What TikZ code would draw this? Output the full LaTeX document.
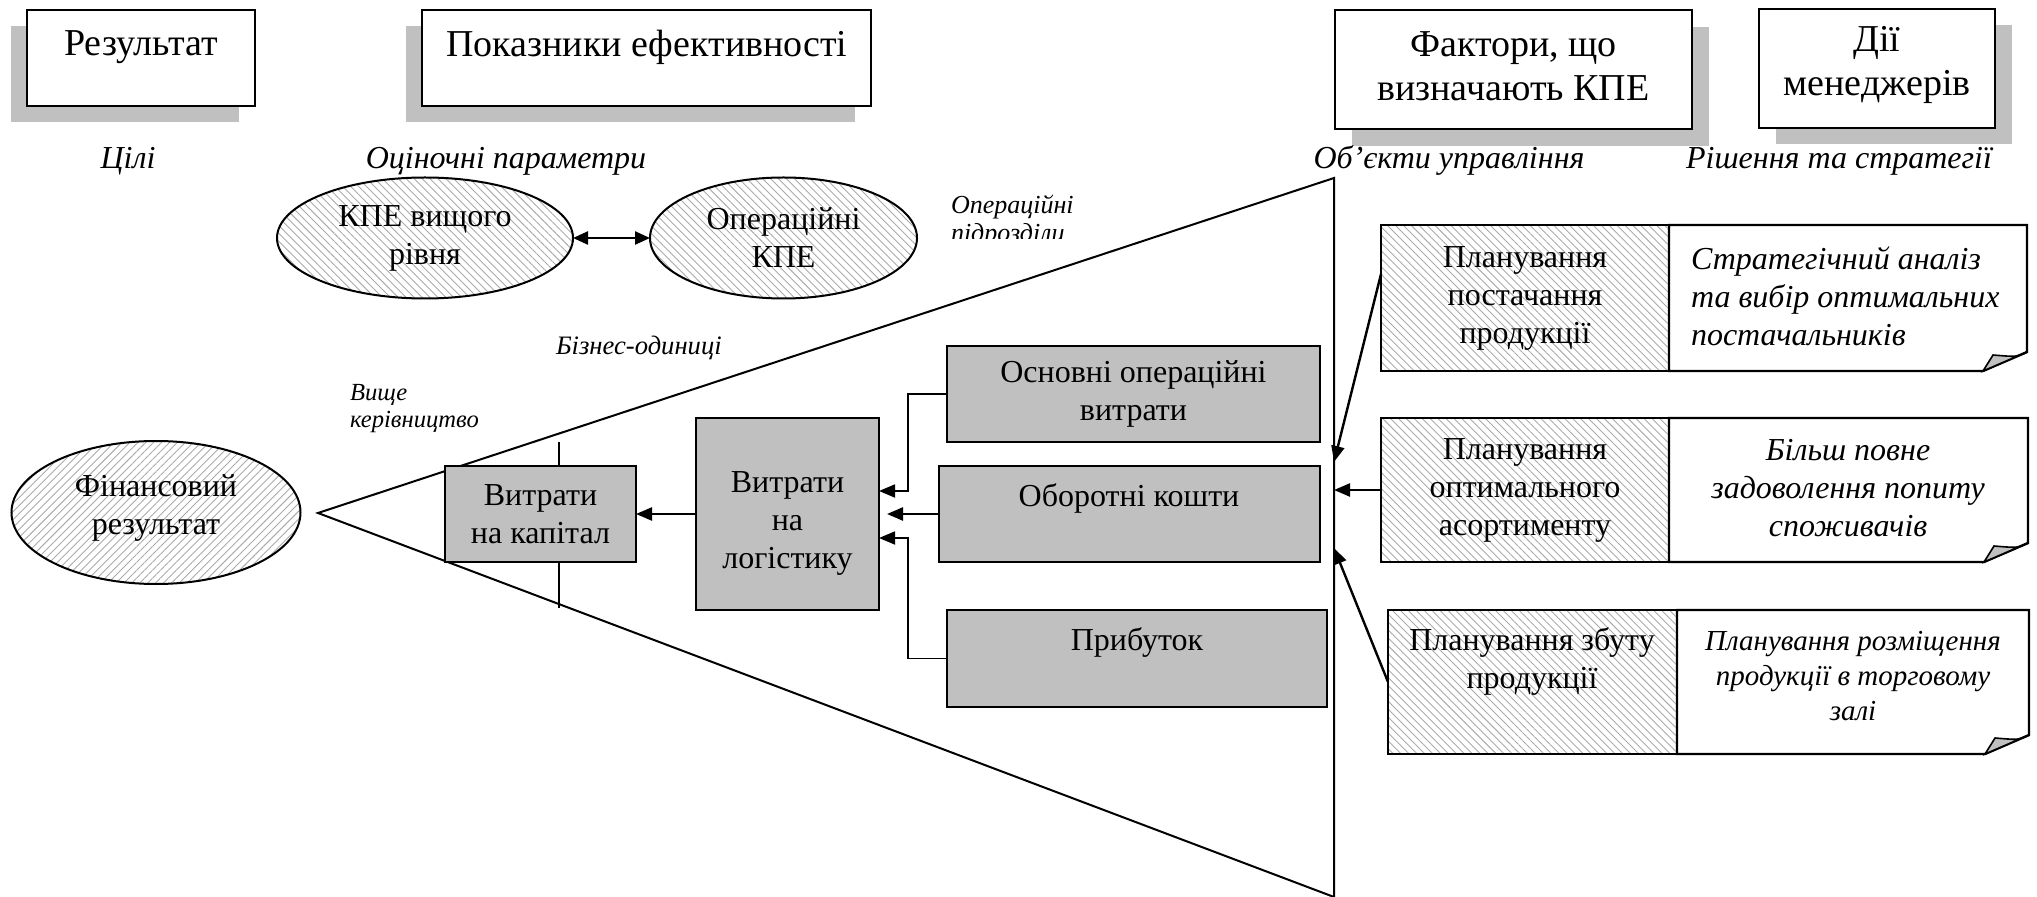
\documentclass[tikz,border=0pt]{standalone}
\usepackage{fontspec}
\setmainfont{Liberation Serif}
\usetikzlibrary{arrows.meta,patterns.meta,shapes.geometric,shadows,calc}
\definecolor{shade}{HTML}{C0C0C0}
\definecolor{hatch}{HTML}{AAAAAA}
\begin{document}
\begin{tikzpicture}[x=0.5pt,y=-0.5pt,
  every node/.style={inner sep=0pt, outer sep=0pt},
  hdr/.style={draw, line width=1.2pt, fill=white},
  htxt/.style={font=\fontsize{19}{22}\selectfont, align=center},
  itl/.style={font=\fontsize{16}{19}\selectfont\itshape, align=center},
  sitl/.style={font=\fontsize{13}{14}\selectfont\itshape, align=left},
  txt/.style={font=\fontsize{16}{19}\selectfont, align=center},
  ntxt/.style={font=\fontsize{16}{19}\selectfont\itshape},
  gbox/.style={draw, line width=1.2pt, fill=shade, txt},
  hellL/.style={ellipse, draw, line width=1pt, txt, pattern={Lines[angle=-45,distance=2.8pt,line width=0.45pt]}, pattern color=hatch},
  hellR/.style={ellipse, draw, line width=1pt, txt, pattern={Lines[angle=45,distance=2.8pt,line width=0.45pt]}, pattern color=hatch},
  hbox/.style={draw, line width=1.2pt, txt, pattern={Lines[angle=-45,distance=2.8pt,line width=0.45pt]}, pattern color=hatch},
  notebox/.style={draw, line width=1.2pt, fill=white},
  arr/.style={-{Triangle[length=8pt,width=6.5pt]}, line width=1.2pt},
  darr/.style={{Triangle[length=7.5pt,width=6.5pt]}-{Triangle[length=7.5pt,width=6.5pt]}, line width=1.2pt},
  elb/.style={-{Triangle[length=8pt,width=6.5pt]}, line width=0.9pt},
  tri/.style={line width=1pt}
]
\useasboundingbox (0,0) rectangle (2037,897);

% header boxes
\node[hdr, minimum width=114pt, minimum height=48pt, drop shadow={shadow xshift=-8pt, shadow yshift=-8pt, fill=shade, opacity=1}] (res) at (141,58) {};
\node[htxt] (rest) at (141,47) {Результат};
\node[hdr, minimum width=224.5pt, minimum height=48pt, drop shadow={shadow xshift=-8pt, shadow yshift=-8pt, fill=shade, opacity=1}] (pok) at (646.5,58) {};
\node[htxt] (pokt) at (647,47) {Показники ефективності};
\node[hdr, minimum width=178.5pt, minimum height=59.5pt, drop shadow={shadow xshift=8.5pt, shadow yshift=-8.5pt, fill=shade, opacity=1}] (fak) at (1513.5,69.5) {};
\node[htxt] (fakt) at (1513.5,66) {Фактори, що\\визначають КПЕ};
\node[hdr, minimum width=118pt, minimum height=59.5pt, drop shadow={shadow xshift=8.5pt, shadow yshift=-8pt, fill=shade, opacity=1}] (dii) at (1877,68.5) {};
\node[htxt] (diit) at (1877,65) {Дії\\менеджерів};

% italic labels
\node[itl] (l1) at (128,161) {Цілі};
\node[itl] (l2) at (506,161) {Оціночні параметри};
\node[itl] (l3) at (1449,161) {Об’єкти управління};
\node[itl] (l4) at (1839,161) {Рішення та стратегії};

\node[sitl, font=\fontsize{13.3}{14}\selectfont\itshape, anchor=west] (biz) at (556,348) {Бізнес-одиниці};
\node[sitl, font=\fontsize{12.3}{13.5}\selectfont\itshape, anchor=west] (vyshche) at (350,409) {Вище\\керівництво};
\begin{scope}
  \clip (900,150) rectangle (1200,238.5);
  \node[sitl, anchor=north west] (oppid) at (951,195) {Операційні\\підрозділи};
\end{scope}

% ellipses
\node[hellL, minimum width=148pt, minimum height=60.5pt] (kpe1) at (425,238) {КПЕ вищого\\рівня};
\node[hellL, minimum width=133.5pt, minimum height=60.5pt] (kpe2) at (783.5,238) {Операційні\\КПЕ};
\draw[darr] (kpe1.east) -- (kpe2.west);
\node[hellR, minimum width=144.5pt, minimum height=71.5pt] (fin) at (156,512.5) {};
\node[txt] (fint) at (156,508) {Фінансовий\\результат};

% funnel triangle
\coordinate (apex) at (318,513);
\coordinate (ttop) at (1334,178);
\coordinate (tbot) at (1334,897);
\draw[tri] (tbot) -- (apex) -- (ttop) -- (tbot);
\coordinate (tk1) at (559,442);
\coordinate (tk2) at (559,608);
\draw[tri] (tk1) -- (tk2);

% gray boxes
\node[gbox, minimum width=95.5pt, minimum height=48pt] (cap) at (540.5,514) {Витрати\\на капітал};
\node[gbox, minimum width=91.5pt, minimum height=96pt] (log) at (787.5,514) {};
\node[txt] (logt) at (787.5,523) {Витрати\\на\\логістику};
\node[gbox, minimum width=186.5pt, minimum height=48pt] (opex) at (1133.5,394) {Основні операційні\\витрати};
\node[gbox, minimum width=190.5pt, minimum height=48pt] (obor) at (1129.5,514) {};
\node[txt] (obort) at (1129,498) {Оборотні кошти};
\node[gbox, minimum width=190pt, minimum height=48.5pt] (prof) at (1137,658.5) {};
\node[txt] (proft) at (1137,642) {Прибуток};

\draw[arr] (log.west) -- (cap.east);
\draw[elb] (opex.west) -- ++(-39,0) |- ([yshift=11.5pt]log.east);
\draw[arr, shorten >=4pt] (obor.west) -- (log.east);
\draw[elb] (prof.west) -- ++(-39,0) |- ([yshift=-12pt]log.east);

% right side notes
\node[minimum width=179pt, minimum height=73pt] (s1) at (1848,298) {};
\node[minimum width=179.5pt, minimum height=72pt] (s2) at (1848.5,490) {};
\node[minimum width=176pt, minimum height=72pt] (s3) at (1853,682) {};
\foreach \n in {s1,s2,s3}{
  \path[notebox] (\n.north west) -- (\n.north east) -- ([yshift=9.5pt]\n.south east) -- ([xshift=-22pt]\n.south east) -- (\n.south west) -- cycle;
  \filldraw[fill=shade, line width=0.8pt] ([yshift=9.5pt]\n.south east) .. controls ([xshift=-5pt,yshift=7pt]\n.south east) .. ([xshift=-17pt,yshift=8pt]\n.south east) -- ([xshift=-22pt]\n.south east) -- cycle;
}
\node[ntxt, align=left, anchor=west] (s1t) at (1691,296) {Стратегічний аналіз\\та вибір оптимальних\\постачальників};
\node[ntxt, align=center] (s2t) at (1848,488) {Більш повне\\задоволення попиту\\споживачів};
\node[ntxt, font=\fontsize{14.5}{17.5}\selectfont\itshape, align=center] (s3t) at (1853,676) {Планування розміщення\\продукції в торговому\\залі};

\node[hbox, minimum width=144pt, minimum height=73pt] (p1) at (1525,298) {Планування\\постачання\\продукції};
\node[hbox, minimum width=144pt, minimum height=72pt] (p2) at (1525,490) {Планування\\оптимального\\асортименту};
\node[hbox, minimum width=144.5pt, minimum height=72pt] (p3) at (1532.5,682) {};
\node[txt] (p3t) at (1532,661) {Планування збуту\\продукції};

\coordinate (v1) at (1334,462);
\coordinate (v2) at (1334,490);
\coordinate (v3) at (1334,548);
\draw[arr] ([yshift=12pt]p1.west) -- (v1);
\draw[arr] (p2.west) -- (v2);
\draw[arr] (p3.west) -- (v3);
\end{tikzpicture}
\end{document}
